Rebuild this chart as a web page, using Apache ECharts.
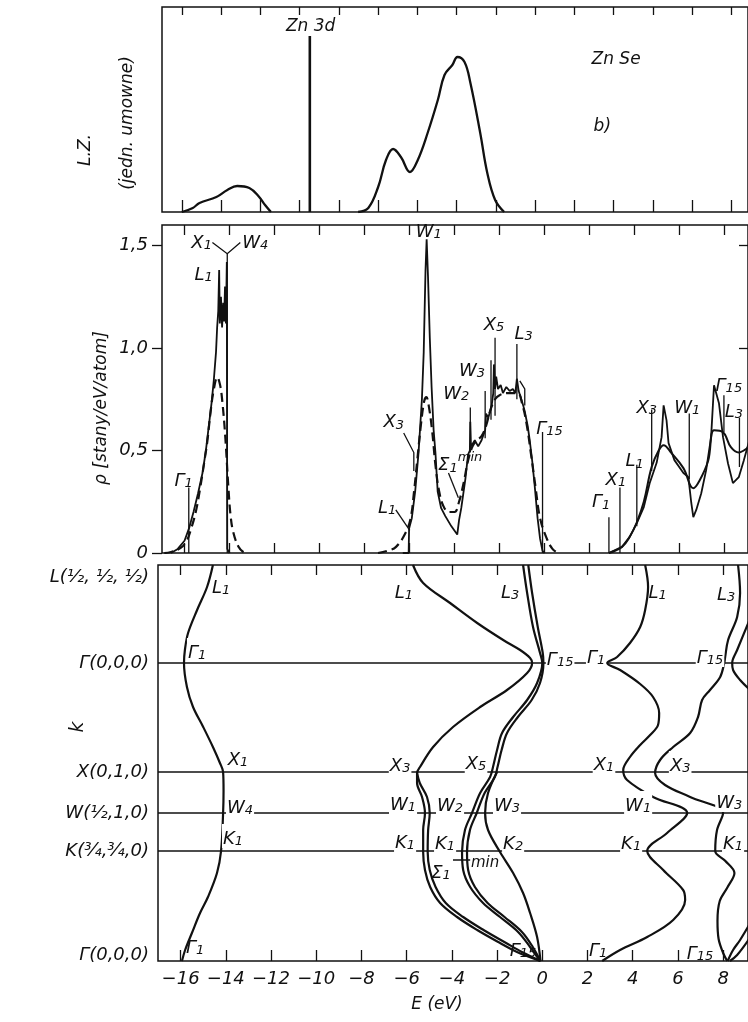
<!DOCTYPE html>
<html><head><meta charset="utf-8">
<script src="https://cdn.jsdelivr.net/npm/echarts@6/dist/echarts.min.js"></script>
<style>html,body{margin:0;padding:0;background:#fff}#c{width:748px;height:1022px}</style>
</head><body><div id="c"></div>
<script>
// ================= DATA =================
// energy axis (eV) ticks for middle and bottom panels
const energyTicks = [-16,-14,-12,-10,-8,-6,-4,-2,0,2,4,6,8];
// top panel (spectrum) tick positions, in its own arbitrary units
const topTicks = [0,1,2,3,4,5,6,7,8,9,10,11,12,13,14];
// DOS axis
const dosTicks = [0,0.5,1.0,1.5];
const dosTickLabels = ['0','0,5','1,0','1,5'];
// k path (bottom panel): positions along the vertical axis and their labels
const kPoints = [0,110,148,189,298,396];
const kLabels = ['Γ(0,0,0)','K(¾,¾,0)','W(½,1,0)','X(0,1,0)','Γ(0,0,0)','L(½, ½, ½)'];
const kLineValues = [110,148,189,298];

// ---- top panel: L.Z. spectrum [u, intensity] ----
const specLow = [[0,0],[0.28,4],[0.45,9],[0.88,15],[1.16,22],[1.41,26],[1.72,24],[1.97,15],[2.12,7],[2.27,0]];
const specMain = [[4.49,0],[4.75,4],[5.0,25],[5.2,52],[5.38,63],[5.58,55],[5.81,40],[6.01,52],[6.26,79],[6.52,112],[6.69,137],[6.89,147],[7.02,155],[7.2,150],[7.35,129],[7.6,79],[7.78,39],[7.98,12],[8.21,0]];
const zn3d = [[3.26,0],[3.26,176]];
const topText = ['Zn 3d','Zn Se','b)'];
const topTextPos = [[3.28,185],[11.06,152],[10.71,85]];

// ---- middle panel: density of states [E, rho] ----
const dosSolidLow = [[-16.6,0],[-16.3,0.02],[-16.0,0.06],[-15.8,0.12],[-15.6,0.2],[-15.4,0.29],[-15.2,0.39],[-15.05,0.5],[-14.93,0.61],[-14.8,0.73],[-14.7,0.84],[-14.6,0.98],[-14.55,1.1],[-14.5,1.18],[-14.46,1.38],[-14.43,1.12],[-14.38,1.25],[-14.33,1.1],[-14.28,1.22],[-14.24,1.13],[-14.2,1.3],[-14.16,1.12],[-14.12,1.42],[-14.1,0.02],[-14.0,0]];
const dosDashLow = [[-16.9,0],[-16.6,0.005],[-16.17,0.025],[-15.9,0.06],[-15.73,0.11],[-15.5,0.2],[-15.3,0.32],[-15.1,0.46],[-14.98,0.55],[-14.85,0.68],[-14.71,0.79],[-14.54,0.857],[-14.42,0.82],[-14.32,0.74],[-14.19,0.57],[-14.05,0.32],[-13.95,0.18],[-13.83,0.1],[-13.6,0.03],[-13.39,0.005],[-13.2,0]];
const dosSolidVal = [[-6.3,0],[-6.04,0],[-6.02,0.12],[-5.9,0.17],[-5.75,0.3],[-5.6,0.49],[-5.45,0.75],[-5.37,0.98],[-5.29,1.38],[-5.24,1.53],[-5.18,1.35],[-5.1,1.05],[-5.02,0.81],[-4.93,0.6],[-4.85,0.49],[-4.75,0.3],[-4.6,0.22],[-4.41,0.18],[-4.14,0.13],[-3.88,0.09],[-3.8,0.16],[-3.7,0.22],[-3.52,0.36],[-3.4,0.48],[-3.32,0.5],[-3.3,0.64],[-3.27,0.52],[-3.1,0.55],[-2.95,0.52],[-2.8,0.55],[-2.64,0.6],[-2.6,0.68],[-2.5,0.66],[-2.35,0.72],[-2.28,0.78],[-2.25,0.92],[-2.2,0.8],[-2.15,0.86],[-2.07,0.8],[-1.95,0.82],[-1.85,0.78],[-1.7,0.81],[-1.55,0.79],[-1.41,0.8],[-1.3,0.78],[-1.23,0.85],[-1.15,0.79],[-1.06,0.76],[-0.95,0.72],[-0.88,0.69],[-0.75,0.62],[-0.66,0.55],[-0.55,0.45],[-0.44,0.33],[-0.31,0.17],[-0.2,0.07],[-0.09,0.01],[0,0]];
const dosDashVal = [[-7.4,0],[-7.0,0.01],[-6.6,0.03],[-6.17,0.1],[-5.95,0.17],[-5.8,0.3],[-5.65,0.46],[-5.5,0.62],[-5.35,0.74],[-5.25,0.76],[-5.15,0.72],[-5.0,0.6],[-4.85,0.43],[-4.7,0.31],[-4.5,0.23],[-4.25,0.2],[-4.0,0.2],[-3.8,0.25],[-3.6,0.34],[-3.4,0.45],[-3.2,0.52],[-3.0,0.55],[-2.8,0.57],[-2.6,0.62],[-2.4,0.7],[-2.2,0.75],[-2.0,0.77],[-1.6,0.78],[-1.2,0.78],[-1.0,0.73],[-0.8,0.63],[-0.6,0.48],[-0.4,0.32],[-0.2,0.17],[0.1,0.07],[0.35,0.02],[0.6,0]];
const dosSolidCond = [[2.86,0],[3.44,0.03],[3.79,0.08],[4.1,0.146],[4.41,0.224],[4.67,0.34],[4.98,0.44],[5.2,0.565],[5.29,0.72],[5.42,0.647],[5.51,0.536],[5.77,0.453],[6.17,0.39],[6.39,0.37],[6.52,0.244],[6.61,0.175],[6.74,0.21],[6.96,0.29],[7.18,0.404],[7.4,0.565],[7.53,0.818],[7.75,0.73],[7.93,0.565],[8.15,0.438],[8.37,0.341],[8.63,0.37],[8.85,0.45],[9.1,0.55]];
const dosSmoothCond = [[2.86,0],[3.44,0.03],[3.79,0.08],[4.1,0.15],[4.41,0.25],[4.76,0.42],[5.07,0.5],[5.29,0.526],[5.64,0.487],[6.17,0.414],[6.61,0.316],[6.87,0.35],[7.27,0.45],[7.53,0.599],[7.93,0.589],[8.28,0.516],[8.63,0.49],[8.85,0.5],[9.1,0.52]];
// critical-point marker lines [E, rho] polylines
const dosMarkers = [
  [[-15.81,0],[-15.81,0.32]],
  [[-14.76,1.515],[-14.1,1.46],[-13.52,1.515]],
  [[-14.1,1.46],[-14.1,0]],
  [[-6.26,0.585],[-5.81,0.49],[-5.81,0.40]],
  [[-6.61,0.21],[-5.99,0.11]],
  [[-4.27,0.39],[-3.83,0.27]],
  [[-3.3,0.71],[-3.3,0.49]],
  [[-2.64,0.79],[-2.64,0.56]],
  [[-2.2,1.05],[-2.2,0.67]],
  [[-2.38,0.94],[-2.38,0.65]],
  [[-1.23,1.02],[-1.23,0.75]],
  [[-1.1,0.84],[-0.88,0.8],[-0.88,0.72]],
  [[-0.09,0.59],[-0.09,0]],
  [[2.86,0.175],[2.86,0]],
  [[3.35,0.32],[3.35,0]],
  [[4.1,0.43],[4.1,0.13]],
  [[4.76,0.7],[4.76,0.4]],
  [[6.43,0.68],[6.43,0.36]],
  [[7.97,0.77],[7.97,0.59]],
  [[8.66,0.66],[8.66,0.42]]
];
const dosLabelText = ['Γ_1','X_1','W_4','L_1','W_1','X_3','L_1','Σ_1^min','W_2','W_3','X_5','L_3','Γ_15','Γ_1','X_1','L_1','X_3','W_1','Γ_15','L_3'];
const dosLabelPos = [[-16.04,0.365],[-15.24,1.525],[-12.86,1.525],[-15.15,1.37],[-5.15,1.58],[-6.7,0.65],[-7.0,0.234],[-3.75,0.44],[-3.92,0.79],[-3.22,0.9],[-2.25,1.125],[-0.93,1.08],[0.22,0.62],[2.51,0.26],[3.17,0.37],[4.0,0.46],[4.54,0.72],[6.34,0.72],[8.19,0.83],[8.41,0.70]];

// ---- bottom panel: band structure [E, k] ----
const band1 = [[-14.57,396],[-14.83,374],[-15.27,351],[-15.67,328],[-15.81,311],[-15.85,298],[-15.72,274],[-15.45,254],[-15.0,234],[-14.57,214],[-14.26,198],[-14.12,189],[-14.1,170],[-14.12,148],[-14.21,110],[-14.39,88],[-14.79,64],[-15.14,48],[-15.5,28],[-15.8,11],[-15.94,0]];
const band2 = [[-5.72,396],[-5.27,378],[-4.08,358],[-2.88,338],[-1.73,321],[-0.98,311],[-0.54,303],[-0.45,298],[-0.67,288],[-1.56,271],[-2.75,254],[-3.95,234],[-4.83,214],[-5.41,194],[-5.54,188],[-5.54,178],[-5.32,164],[-5.19,148],[-5.27,131],[-5.27,109],[-5.19,91],[-4.96,74],[-4.52,58],[-3.77,44],[-2.88,31],[-1.87,18],[-1.12,9],[-0.08,0]];
const band2b = [[-5.54,188],[-5.42,178],[-5.1,164],[-4.98,148],[-5.05,131],[-5.07,109],[-4.98,91],[-4.72,74],[-4.27,58],[-3.5,44],[-2.6,31],[-1.6,18],[-0.9,9],[-0.08,0]];
const band3a = [[-0.85,396],[-0.67,368],[-0.41,334],[-0.1,308],[0,298],[-0.23,278],[-0.67,261],[-1.29,244],[-1.78,228],[-2.0,211],[-2.18,194],[-2.31,184],[-2.75,168],[-3.11,148],[-3.42,131],[-3.55,109],[-3.5,91],[-3.19,74],[-2.62,58],[-1.87,44],[-1.07,29],[-0.54,14],[-0.1,0]];
const band3b = [[-0.62,396],[-0.45,368],[-0.2,334],[0.02,308],[0.05,298],[-0.1,278],[-0.47,261],[-1.08,244],[-1.56,228],[-1.8,211],[-1.98,194],[-2.1,184],[-2.55,168],[-2.9,148],[-3.2,131],[-3.33,109],[-3.28,91],[-2.98,74],[-2.42,58],[-1.67,44],[-0.9,29],[-0.42,14],[-0.08,0]];
const band4 = [[-2.0,189],[-2.4,168],[-2.53,148],[-2.4,131],[-1.87,109],[-1.29,88],[-0.85,68],[-0.54,48],[-0.23,24],[-0.08,0]];
const band5 = [[4.55,396],[4.68,374],[4.55,351],[4.33,334],[3.88,318],[3.31,304],[2.87,298],[3.44,291],[4.33,277],[4.9,264],[5.17,248],[5.12,236],[4.77,226],[4.33,216],[3.88,204],[3.58,191],[3.75,181],[4.9,164],[6.41,148],[5.52,128],[4.64,110],[5.35,91],[6.23,71],[6.32,61],[5.79,41],[4.64,24],[3.44,11],[2.65,0]];
const band6 = [[8.66,396],[8.75,368],[8.62,344],[8.22,321],[8.09,304],[8.05,298],[7.87,284],[7.42,271],[7.07,261],[6.89,244],[6.54,228],[5.79,214],[5.21,201],[4.99,188],[5.43,176],[6.54,164],[8.0,148],[7.73,131],[7.65,110],[8.1,100],[8.5,88],[8.2,74],[7.85,60],[7.75,40],[7.8,22],[8.0,8],[8.18,0]];
const band7top = [[9.15,340],[8.62,311],[8.4,298],[8.44,291],[8.75,281],[9.15,272]];
const band7bot = [[8.2,0],[8.44,11],[8.75,21],[9.15,36]];
const band8bot = [[8.3,0],[8.62,6],[9.15,22]];
const bandsAll = [band1,band2,band2b,band3a,band3b,band4,band5,band6,band7top,band7bot,band8bot];
const sigmaConnector = [[-3.95,101],[-3.19,101]];
// band labels on the k lines (white background breaks the line)
const bandLabelLineText = ['Γ_1','Γ_15','Γ_1','Γ_15','X_1','X_3','X_5','X_1','X_3','W_4','W_1','W_2','W_3','W_1','W_3','K_1','K_1','K_1','K_2','K_1','K_1'];
const bandLabelLinePos = [[-15.27,311],[0.79,304],[2.38,306],[7.42,306],[-13.46,204],[-6.29,198],[-2.93,200],[2.73,199],[6.1,198],[-13.37,156],[-6.16,159],[-4.08,158],[-1.56,158],[4.24,158],[8.27,161],[-13.68,125],[-6.07,121],[-4.3,120],[-1.29,120],[3.93,120],[8.44,120]];
const bandLabelFreeText = ['L_1','L_1','L_3','L_1','L_3','Σ_1','.min','Γ_1','Γ_15','Γ_1','Γ_15'];
const bandLabelFreePos = [[-14.21,376],[-6.12,371],[-1.42,371],[5.1,371],[8.13,369],[-4.48,91],[-2.53,98],[-15.36,16],[-0.85,13],[2.47,13],[6.98,10]];

// ================= CHART =================
const FONT = 'DejaVu Sans';
const INK = '#111111';
const rich = {
  m: {fontSize: 18, fontStyle: 'italic', fontFamily: FONT, color: INK, lineHeight: 24, verticalAlign: 'bottom'},
  s: {fontSize: 13, fontStyle: 'italic', fontFamily: FONT, color: INK, lineHeight: 10, verticalAlign: 'bottom'},
  p: {fontSize: 13, fontStyle: 'italic', fontFamily: FONT, color: INK, lineHeight: 10, verticalAlign: 'top'},
  q: {fontSize: 15, fontStyle: 'italic', fontFamily: FONT, color: INK, lineHeight: 18}
};
function richText(t) {
  if (t.startsWith('.')) return '{q|' + t.slice(1) + '}';
  const m = t.match(/^([^_^]+)(?:_([^_^]+))?(?:\^(.+))?$/);
  let s = '{m|' + m[1] + '}';
  if (m[2]) s += '{s|' + m[2] + '}';
  if (m[3]) s += '{p|' + m[3] + '}';
  return s;
}
function labelSeries(xi, yi, texts, pos, bg) {
  return {
    type: 'scatter', xAxisIndex: xi, yAxisIndex: yi, symbolSize: 0, silent: true, z: 20,
    itemStyle: {opacity: 1},
    data: texts.map((t, i) => ({value: pos[i], name: t})),
    label: {show: true, position: 'inside', formatter: p => richText(p.name), rich: rich, opacity: 1,
      color: INK, textBorderWidth: 0,
      backgroundColor: bg ? '#fff' : 'transparent', padding: bg ? [0, 1, 0, 1] : 0}
  };
}
function lineSeries(xi, yi, data, opt) {
  return Object.assign({type: 'line', xAxisIndex: xi, yAxisIndex: yi, data: data, symbol: 'none',
    silent: true, lineStyle: {color: INK, width: 2}}, opt || {});
}
function fmtE(v) { return v < 0 ? '−' + Math.abs(v) : String(v); }
const tickStyle = {color: INK, width: 1.3};
function xAx(grid, pos, min, max, ticks, len, labels) {
  return {type: 'value', gridIndex: grid, position: pos, min: min, max: max,
    axisLine: {show: false, onZero: false}, splitLine: {show: false},
    axisTick: {show: true, inside: true, length: len, lineStyle: tickStyle, customValues: ticks},
    axisLabel: labels ? {show: true, customValues: ticks, formatter: fmtE, margin: 9,
      fontSize: 18, fontStyle: 'italic', fontFamily: FONT, color: INK} : {show: false}};
}

const series = [];
// top panel
series.push(lineSeries(0, 0, specLow, {smooth: 0.4, lineStyle: {color: INK, width: 2.3}}));
series.push(lineSeries(0, 0, specMain, {smooth: 0.4, lineStyle: {color: INK, width: 2.3}}));
series.push(lineSeries(0, 0, zn3d, {lineStyle: {color: INK, width: 2.6}}));
series.push({type: 'scatter', xAxisIndex: 0, yAxisIndex: 0, symbolSize: 0, silent: true, itemStyle: {opacity: 1},
  data: topText.map((t, i) => ({value: topTextPos[i], name: t})),
  label: {show: true, position: 'inside', formatter: p => p.name, fontSize: 17, fontStyle: 'italic',
    fontFamily: FONT, color: INK, opacity: 1, textBorderWidth: 0}});
// middle panel
series.push(lineSeries(2, 1, dosSolidLow, {lineStyle: {color: INK, width: 1.8}}));
series.push(lineSeries(2, 1, dosDashLow, {smooth: 0.4, lineStyle: {color: INK, width: 2.2, type: [9, 5]}}));
series.push(lineSeries(2, 1, dosSolidVal, {lineStyle: {color: INK, width: 1.8}}));
series.push(lineSeries(2, 1, dosDashVal, {smooth: 0.4, lineStyle: {color: INK, width: 2.2, type: [9, 5]}}));
series.push(lineSeries(2, 1, dosSolidCond, {lineStyle: {color: INK, width: 1.8}}));
series.push(lineSeries(2, 1, dosSmoothCond, {smooth: 0.4, lineStyle: {color: INK, width: 2}}));
series.push({type: 'lines', coordinateSystem: 'cartesian2d', xAxisIndex: 2, yAxisIndex: 1, polyline: true,
  silent: true, lineStyle: {color: INK, width: 1.3, opacity: 1}, data: dosMarkers.map(c => ({coords: c}))});
series.push(labelSeries(2, 1, dosLabelText, dosLabelPos, false));
// bottom panel
series.push({type: 'lines', coordinateSystem: 'cartesian2d', xAxisIndex: 4, yAxisIndex: 3, polyline: true,
  silent: true, lineStyle: {color: INK, width: 1.5, opacity: 1},
  data: kLineValues.map(k => ({coords: [[-17, k], [9.1, k]]})).concat([{coords: sigmaConnector}])});
bandsAll.forEach(b => series.push(lineSeries(4, 3, b, {smooth: 0.35, lineStyle: {color: INK, width: 2.2}})));
series.push(labelSeries(4, 3, bandLabelLineText, bandLabelLinePos, true));
series.push(labelSeries(4, 3, bandLabelFreeText, bandLabelFreePos, false));

const kRich = {
  t: {fontSize: 18, fontStyle: 'italic', fontFamily: FONT, color: INK, padding: [24, 0, 0, 0]},
  b: {fontSize: 18, fontStyle: 'italic', fontFamily: FONT, color: INK, padding: [0, 0, 12, 0]},
  n: {fontSize: 18, fontStyle: 'italic', fontFamily: FONT, color: INK}
};
const yHidden = {axisLine: {show: false, onZero: false}, splitLine: {show: false}};

const option = {
  animation: false,
  backgroundColor: '#fff',
  grid: [
    {left: 162, top: 7, width: 591, height: 205, show: true, borderColor: INK, borderWidth: 1.5},
    {left: 162, top: 225, width: 591, height: 328, show: true, borderColor: INK, borderWidth: 1.5},
    {left: 158, top: 565, width: 590, height: 396, show: true, borderColor: INK, borderWidth: 1.5}
  ],
  xAxis: [
    xAx(0, 'bottom', -0.505, 14.42, topTicks, 12, false),
    xAx(0, 'top', -0.505, 14.42, topTicks, 8, false),
    xAx(1, 'bottom', -17, 9.04, energyTicks, 10, false),
    xAx(1, 'top', -17, 9.04, energyTicks, 10, false),
    xAx(2, 'bottom', -17, 9.1, energyTicks, 11, true),
    xAx(2, 'top', -17, 9.1, energyTicks, 10, false)
  ],
  yAxis: [
    Object.assign({type: 'value', gridIndex: 0, min: 0, max: 205, axisTick: {show: false},
      axisLabel: {show: false}}, yHidden),
    Object.assign({type: 'value', gridIndex: 1, min: 0, max: 1.6, position: 'left',
      axisTick: {show: true, inside: false, length: 10, lineStyle: tickStyle, customValues: dosTicks},
      axisLabel: {show: true, customValues: dosTicks, margin: 14, fontSize: 18, fontStyle: 'italic',
        fontFamily: FONT, color: INK, formatter: v => dosTickLabels[dosTicks.indexOf(v)]}}, yHidden),
    Object.assign({type: 'value', gridIndex: 1, min: 0, max: 1.6, position: 'right',
      axisTick: {show: true, inside: true, length: 9, lineStyle: tickStyle, customValues: [1.0, 1.5]},
      axisLabel: {show: false}}, yHidden),
    Object.assign({type: 'value', gridIndex: 2, min: 0, max: 396, position: 'left',
      axisTick: {show: false},
      axisLabel: {show: true, customValues: kPoints, margin: 9, rich: kRich,
        formatter: (v) => {
          const i = kPoints.indexOf(v);
          const st = v === kPoints[kPoints.length - 1] ? 't' : (v === kPoints[0] ? 'b' : 'n');
          return '{' + st + '|' + kLabels[i] + '}';
        }}}, yHidden)
  ],
  graphic: [
    {type: 'text', x: 86, y: 150, rotation: Math.PI / 2, style: {text: 'L.Z.', font: 'italic 17px "DejaVu Sans"', fill: INK, align: 'center', verticalAlign: 'middle'}},
    {type: 'text', x: 128, y: 123, rotation: Math.PI / 2, style: {text: '(jedn. umowne)', font: 'italic 17px "DejaVu Sans"', fill: INK, align: 'center', verticalAlign: 'middle'}},
    {type: 'text', x: 102, y: 408, rotation: Math.PI / 2, style: {text: 'ρ [stany/eV/atom]', font: 'italic 17px "DejaVu Sans"', fill: INK, align: 'center', verticalAlign: 'middle'}},
    {type: 'text', x: 78, y: 727, rotation: Math.PI / 2, style: {text: 'k', font: 'italic 19px "DejaVu Sans"', fill: INK, align: 'center', verticalAlign: 'middle'}},
    {type: 'text', x: 437, y: 1005, style: {text: 'E (eV)', font: 'italic 17px "DejaVu Sans"', fill: INK, align: 'center', verticalAlign: 'middle'}}
  ],
  series: series
};
const chart = echarts.init(document.getElementById('c'), null, {renderer: 'canvas'});
chart.setOption(option);
</script>
</body></html>
